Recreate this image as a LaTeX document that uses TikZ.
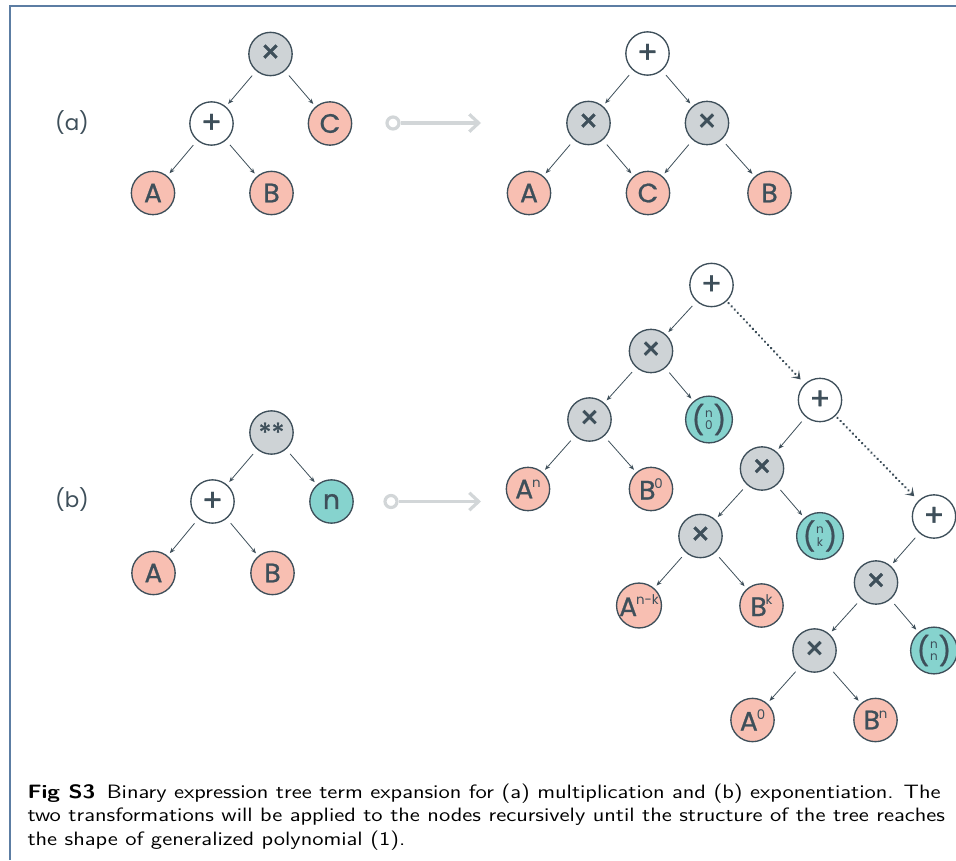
\documentclass[tikz,border=0pt]{standalone}
\usepackage{fontspec}
\newfontfamily\pop{Poppins}
\newfontfamily\popb[FakeBold=0.9]{Poppins}
\usetikzlibrary{arrows.meta}

\definecolor{slate}{HTML}{3E4F5A}
\definecolor{opgray}{HTML}{CED3D6}
\definecolor{leafpink}{HTML}{F8BFB2}
\definecolor{expteal}{HTML}{86D3CE}
\definecolor{flowgray}{HTML}{D2D6D8}
\definecolor{framecol}{HTML}{5C7DA3}

% operator glyphs, exponent on a leaf, and binomial coefficient
\newcommand{\mul}{{\fontsize{24}{24}\selectfont ×}}
\newcommand{\add}{{\fontsize{23}{23}\selectfont +}}
\newcommand{\pw}[2]{#1\kern-0.8pt\raisebox{0.42em}{\pop\fontsize{10}{10}\selectfont #2}}
\newcommand{\bnm}[2]{{\fontsize{21}{21}\selectfont(}\kern0.6pt\raisebox{4.5pt}{\pop\fontsize{9}{9}\selectfont\begin{tabular}{@{}c@{}}#1\\[0pt]#2\end{tabular}}\kern0.6pt{\fontsize{21}{21}\selectfont)}}

\tikzset{every picture/.style={line width=0.75pt}}
\tikzset{
  tnode/.style={circle, draw=slate, line width=1pt, minimum size=32.5pt, inner sep=0pt, text=slate, font=\popb\fontsize{20}{20}\selectfont},
  opnode/.style={tnode, fill=opgray},
  plusnode/.style={tnode, fill=white},
  leaf/.style={tnode, fill=leafpink},
  coef/.style={tnode, fill=expteal},
  edge/.style={draw=slate, line width=0.6pt, -{Stealth[length=4pt,width=3.2pt]}, shorten <=4.5pt, shorten >=2.5pt},
  chain/.style={draw=slate, line width=2pt, line cap=round, dash pattern=on 0.01pt off 3.3pt, -{Stealth[length=6pt,width=8pt,inset=3pt,line cap=butt]}, shorten <=2pt, shorten >=4.5pt},
  xform/.style={draw=flowgray, line width=2.4pt, -{Straight Barb[length=7pt,width=13pt]}},
  xsrc/.style={circle, draw=flowgray, line width=2.4pt, minimum size=9pt, inner sep=0pt},
  tag/.style={text=slate, font=\pop\fontsize{16}{16}\selectfont},
}

\begin{document}
\begin{tikzpicture}[x=0.75pt,y=0.75pt,yscale=-1,xscale=1]
\useasboundingbox (0,0) rectangle (956,860);

% frame
\draw[framecol, line width=1.5pt] (9.5,860) -- (9.5,5.5) -- (956,5.5);

% (a) product of a sum
\node[tag] (taga) at (72,123) {(a)};
\node[opnode] (aT) at (270.5,54) {\mul};
\node[plusnode] (aP) at (211.5,123.5) {\add};
\node[leaf] (aC) at (330,123.5) {C};
\node[leaf] (aA) at (153,193) {A};
\node[leaf] (aB) at (271.5,193) {B};
\draw[edge] (aT) -- (aP);
\draw[edge] (aT) -- (aC);
\draw[edge] (aP) -- (aA);
\draw[edge] (aP) -- (aB);

% transformation (a)
\node[xsrc] (srca) at (393,123) {};
\coordinate (enda) at (481,123);
\draw[xform] (srca) -- (enda);

% (a) expanded
\node[plusnode] (rT) at (647.5,53.5) {\add};
\node[opnode] (rL) at (588.5,123) {\mul};
\node[opnode] (rR) at (707,123) {\mul};
\node[leaf] (rA) at (529,193) {A};
\node[leaf] (rC) at (648,193) {C};
\node[leaf] (rB) at (769.5,193) {B};
\draw[edge] (rT) -- (rL);
\draw[edge] (rT) -- (rR);
\draw[edge] (rL) -- (rA);
\draw[edge] (rL) -- (rC);
\draw[edge] (rR) -- (rC);
\draw[edge] (rR) -- (rB);

% (b) power of a sum
\node[tag] (tagb) at (72,500) {(b)};
\node[opnode] (bT) at (271.5,432.5) {**};
\node[plusnode] (bP) at (212.5,501.5) {\add};
\node[coef] (bN) at (331.5,501.5) {n};
\node[leaf] (bA) at (153.5,573) {A};
\node[leaf] (bB) at (272.5,573) {B};
\draw[edge] (bT) -- (bP);
\draw[edge] (bT) -- (bN);
\draw[edge] (bP) -- (bA);
\draw[edge] (bP) -- (bB);

% transformation (b)
\node[xsrc] (srcb) at (391,501.5) {};
\coordinate (endb) at (481,501.5);
\draw[xform] (srcb) -- (endb);

% (b) expanded, first term
\node[plusnode] (p1) at (711.5,285) {\add};
\node[opnode] (m1) at (651,351) {\mul};
\node[opnode] (m2) at (589.5,419.5) {\mul};
\node[coef] (c0) at (709,419.5) {\bnm{n}{0}};
\node[leaf] (an) at (528,489) {\pw{A}{n}};
\node[leaf] (b0) at (651,489) {\pw{B}{0}};
\draw[edge] (p1) -- (m1);
\draw[edge] (m1) -- (m2);
\draw[edge] (m1) -- (c0);
\draw[edge] (m2) -- (an);
\draw[edge] (m2) -- (b0);

% k-th term
\node[plusnode] (p2) at (820,400) {\add};
\node[opnode] (m3) at (762,468.5) {\mul};
\node[opnode] (m4) at (700.5,536) {\mul};
\node[coef] (ck) at (820,536) {\bnm{n}{k}};
\node[leaf] (ank) at (639,605.5) {\pw{A}{n-k}};
\node[leaf] (bk) at (761.5,605.5) {\pw{B}{k}};
\draw[edge] (p2) -- (m3);
\draw[edge] (m3) -- (m4);
\draw[edge] (m3) -- (ck);
\draw[edge] (m4) -- (ank);
\draw[edge] (m4) -- (bk);

% last term
\node[plusnode] (p3) at (934,516.5) {\add};
\node[opnode] (m5) at (876,582.5) {\mul};
\node[opnode] (m6) at (814.5,650.5) {\mul};
\node[coef] (cn) at (934,650.5) {\bnm{n}{n}};
\node[leaf] (a0) at (752.5,720) {\pw{A}{0}};
\node[leaf] (bn) at (875.5,720) {\pw{B}{n}};
\draw[edge] (p3) -- (m5);
\draw[edge] (m5) -- (m6);
\draw[edge] (m5) -- (cn);
\draw[edge] (m6) -- (a0);
\draw[edge] (m6) -- (bn);

% dotted links between the sums
\draw[chain] (p1) -- (p2);
\draw[chain] (p2) -- (p3);

% caption
\node[anchor=north west, inner sep=0pt, font=\sffamily\fontsize{14.5}{17.4}\selectfont] (cap) at (27,782)
  {\scalebox{1.19}[1]{\begin{tabular}{@{}l@{}}
   \textbf{Fig S3}\enspace Binary expression tree term expansion for (a) multiplication and (b) exponentiation. The\\
   two transformations will be applied to the nodes recursively until the structure of the tree reaches\\
   the shape of generalized polynomial (1).
   \end{tabular}}};

\end{tikzpicture}
\end{document}
